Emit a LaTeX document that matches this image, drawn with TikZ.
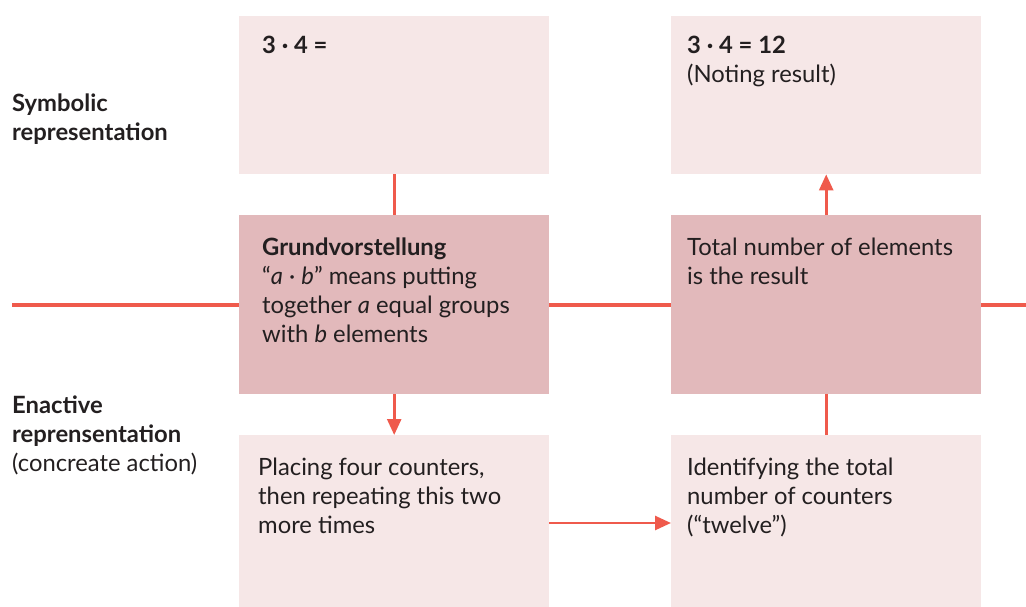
\documentclass[tikz,border=0pt]{standalone}
\usepackage{fontspec}
\setmainfont{Lato}
\usetikzlibrary{arrows.meta}
\definecolor{lightbox}{HTML}{F6E7E7}
\definecolor{darkbox}{HTML}{E2B9BB}
\definecolor{linered}{HTML}{EF5A4C}
\definecolor{ink}{HTML}{231F20}
\begin{document}
\begin{tikzpicture}[x=1pt,y=-1pt,
  box/.style={draw=none,minimum width=310pt,minimum height=#1,inner sep=0pt,anchor=north west},
  lbox/.style={box=#1,fill=lightbox},
  dbox/.style={box=#1,fill=darkbox},
  txt/.style={anchor=base west,align=left,inner sep=0pt,text=ink,font=\fontsize{23.8}{29}\selectfont},
  conn/.style={draw=linered,line width=2.6pt},
  arr/.style={conn,-{Triangle[length=16pt,width=14pt]}},
  axis/.style={draw=linered,line width=4pt}]
\useasboundingbox (0,0) rectangle (1026,607);
% boxes
\node[lbox=158pt] (A) at (239,16) {};
\node[dbox=179pt] (B) at (239,215) {};
\node[lbox=172pt] (C) at (239,435) {};
\node[lbox=158pt] (D) at (671,16) {};
\node[dbox=179pt] (E) at (671,215) {};
\node[lbox=172pt] (F) at (671,435) {};
% axis line
\coordinate (L) at (12,305);
\coordinate (R) at (1026,305);
\draw[axis] (L) -- (L -| B.west);
\draw[axis] (L -| B.east) -- (L -| E.west);
\draw[axis] (L -| E.east) -- (R);
% connectors
\draw[conn] (A.south) -- (B.north);
\draw[arr] (B.south) -- (C.north);
\draw[arr] ([yshift=-88pt]C.north east) -- ([yshift=-88pt]F.north west);
\draw[conn] (F.north) -- (E.south);
\draw[arr] (E.north) -- (D.south);
% texts (anchor = baseline of last line)
\node[txt] (tA) at (262,54) {\textbf{3 · 4 =}};
\node[txt] (tD) at (687,83) {\textbf{3 · 4 = 12}\\(Noting result)};
\node[txt] (tB) at (262,342) {\textbf{Grundvorstellung}\\“\textit{a} · \textit{b}” means putting\\together \textit{a} equal groups\\with \textit{b} elements};
\node[txt] (tE) at (687,284) {Total number of elements\\is the result};
\node[txt] (tC) at (258,533) {Placing four counters,\\then repeating this two\\more times};
\node[txt] (tF) at (687,533) {Identifying the total\\number of counters\\(“twelve”)};
\node[txt] (sym) at (12,141) {\textbf{Symbolic}\\\textbf{representation}};
\node[txt] (ena) at (12,471) {\textbf{Enactive}\\\textbf{reprensentation}\\(concreate action)};
\end{tikzpicture}
\end{document}
